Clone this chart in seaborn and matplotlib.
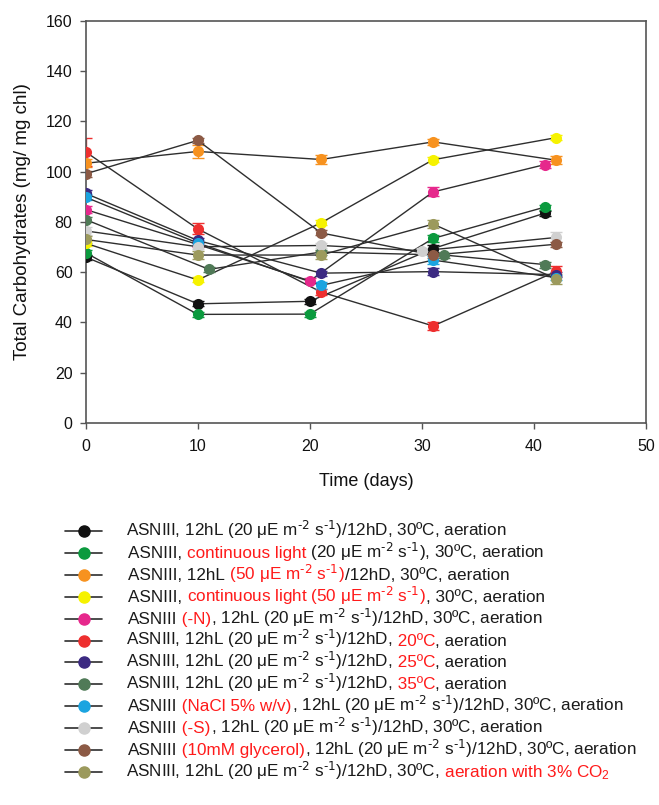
import matplotlib
matplotlib.use("Agg")
import matplotlib.pyplot as plt
from matplotlib.lines import Line2D
import seaborn as sns

# ---- data -------------------------------------------------------------
series_names = [
    "control", "continuous light", "50 uE", "continuous 50 uE", "-N", "20C",
    "25C", "35C", "NaCl", "-S", "glycerol", "CO2",
]
series_colors = [
    "#111111", "#0b9a3e", "#f7921f", "#f6f200", "#e6288c", "#ee2f2f",
    "#3c2a82", "#507a57", "#1ba4e0", "#d0d0d0", "#8c5a45", "#9c9a5d",
]
days = [
    [0, 10, 20, 31, 41],
    [0, 10, 20, 31, 41],
    [0, 10, 21, 31, 42],
    [0, 10, 21, 31, 42],
    [0, 10, 20, 31, 41],
    [0, 10, 21, 31, 42],
    [0, 10, 21, 31, 42],
    [0, 11, 21, 32, 41],
    [0, 10, 21, 31, 42],
    [0, 10, 21, 30, 42],
    [0, 10, 21, 31, 42],
    [0, 10, 21, 31, 42],
]
carbs = [
    [66.0, 47.4, 48.4, 69.4, 83.5],
    [67.7, 43.2, 43.3, 73.4, 85.9],
    [103.3, 108.0, 104.8, 111.8, 104.5],
    [71.5, 56.9, 79.6, 104.7, 113.5],
    [84.9, 71.0, 56.5, 91.9, 102.8],
    [107.8, 77.2, 52.1, 38.6, 60.3],
    [91.3, 72.6, 59.6, 60.2, 59.0],
    [80.9, 61.1, 68.0, 66.8, 63.0],
    [89.8, 71.6, 54.7, 64.8, 57.8],
    [76.4, 70.1, 70.6, 68.5, 73.8],
    [99.1, 112.4, 75.6, 66.8, 71.1],
    [73.0, 66.8, 66.8, 79.1, 57.3],
]
errors = [
    [1.0, 1.0, 1.0, 1.5, 1.0],
    [1.0, 1.0, 1.0, 1.5, 1.0],
    [1.5, 2.5, 1.8, 1.2, 1.5],
    [1.0, 1.0, 1.0, 1.0, 1.0],
    [1.5, 1.0, 1.0, 1.8, 1.5],
    [5.5, 2.2, 1.0, 1.5, 2.0],
    [1.2, 1.0, 1.0, 1.5, 1.0],
    [1.0, 1.0, 1.0, 1.0, 1.2],
    [1.2, 1.0, 1.5, 1.5, 1.0],
    [1.5, 1.0, 1.0, 1.0, 2.0],
    [1.2, 1.0, 1.0, 1.0, 1.0],
    [1.5, 1.5, 1.5, 1.5, 2.0],
]

BLK = "#1a1a1a"
RED = "#ff1a1a"
UNIT = r"(20 μE m$^{\text{-2}}$ s$^{\text{-1}}$)"
UNIT50 = r"(50 μE m$^{\text{-2}}$ s$^{\text{-1}}$)"
legend_rows = [
    [("ASNIII, 12hL " + UNIT + "/12hD, 30ºC, aeration", BLK)],
    [("ASNIII, ", BLK), ("continuous light", RED), (" " + UNIT + ", 30ºC, aeration", BLK)],
    [("ASNIII, 12hL", BLK), (" " + UNIT50, RED), ("/12hD, 30ºC, aeration", BLK)],
    [("ASNIII, ", BLK), ("continuous light " + UNIT50, RED), (", 30ºC, aeration", BLK)],
    [("ASNIII", BLK), (" (-N)", RED), (", 12hL " + UNIT + "/12hD, 30ºC, aeration", BLK)],
    [("ASNIII, 12hL " + UNIT + "/12hD,", BLK), (" 20ºC", RED), (", aeration", BLK)],
    [("ASNIII, 12hL " + UNIT + "/12hD,", BLK), (" 25ºC", RED), (", aeration", BLK)],
    [("ASNIII, 12hL " + UNIT + "/12hD,", BLK), (" 35ºC", RED), (", aeration", BLK)],
    [("ASNIII", BLK), (" (NaCl 5% w/v)", RED), (", 12hL " + UNIT + "/12hD, 30ºC, aeration", BLK)],
    [("ASNIII", BLK), (" (-S)", RED), (", 12hL " + UNIT + "/12hD, 30ºC, aeration", BLK)],
    [("ASNIII", BLK), (" (10mM glycerol)", RED), (", 12hL " + UNIT + "/12hD, 30ºC, aeration", BLK)],
    [("ASNIII, 12hL " + UNIT + "/12hD, 30ºC,", BLK), (r" aeration with 3% CO$_2$", RED)],
]

x_ticks = [0, 10, 20, 30, 40, 50]
y_ticks = [0, 20, 40, 60, 80, 100, 120, 140, 160]

# ---- style ------------------------------------------------------------
sns.set_theme(style="ticks")
plt.rcParams["font.family"] = ["Liberation Sans", "DejaVu Sans"]
plt.rcParams["mathtext.default"] = "regular"

W, H = 659, 805
fig = plt.figure(figsize=(W / 100, H / 100), dpi=100)
fig.patch.set_facecolor("white")

ax_l, ax_r, ax_t, ax_b = 85.7, 646.0, 20.7, 423.0
ax = fig.add_axes([ax_l / W, 1 - ax_b / H, (ax_r - ax_l) / W, (ax_b - ax_t) / H])
ax.set_facecolor("white")

LINE_C = "#2e2e2e"
for d, v, e, c in zip(days, carbs, errors, series_colors):
    ax.errorbar(d, v, yerr=e, fmt="none", ecolor=c, elinewidth=1.0,
                capsize=4.3, capthick=1.0, zorder=2)
    sns.lineplot(x=d, y=v, ax=ax, color=LINE_C, linewidth=1.0,
                 estimator=None, sort=False, zorder=2)
    sns.scatterplot(x=d, y=v, ax=ax, color=c, s=64, edgecolor=c,
                    linewidth=0, zorder=3)

ax.set_xlim(0, 50)
ax.set_ylim(0, 160)
ax.set_xticks(x_ticks)
ax.set_yticks(y_ticks)
ax.tick_params(axis="both", direction="out", length=4.5, width=1.0,
               color="#555555", labelsize=11.5, labelcolor="#111111", pad=5)
ax.tick_params(axis="x", pad=7)
for side in ["left", "bottom", "top", "right"]:
    ax.spines[side].set_visible(True)
    ax.spines[side].set_color("#555555")
    ax.spines[side].set_linewidth(1.2)

ax.set_xlabel("Time (days)", fontsize=13, color="#111111")
ax.set_ylabel("Total Carbohydrates (mg/ mg chl)", fontsize=13.5, color="#111111")
ax.xaxis.set_label_coords(0.5, -0.125)
ax.yaxis.set_label_coords(-0.098, 0.5)

# ---- legend drawn row by row (mixed-colour labels) --------------------
renderer = fig.canvas.get_renderer()
row_y0, row_dy = 531.0, 21.9
for i, (segments, c) in enumerate(zip(legend_rows, series_colors)):
    yc = row_y0 + i * row_dy
    fy = 1 - yc / H
    fig.add_artist(Line2D([65 / W, 102 / W], [fy, fy], transform=fig.transFigure,
                          color=LINE_C, linewidth=1.2))
    fig.add_artist(Line2D([83.5 / W], [fy], transform=fig.transFigure,
                          marker="o", markersize=8, color=c,
                          markeredgecolor=c, linestyle="none"))
    # mathtext boxes carry a little left padding; pull them back in line
    xpix = 126.5 if "$" in segments[0][0] else 128.0
    base = 1 - (yc + 5.0) / H
    for text, col in segments:
        t = fig.text(xpix / W, base, text, color=col, fontsize=12.3,
                     ha="left", va="baseline")
        ext = t.get_window_extent(renderer=renderer)
        xpix = ext.x1

fig.savefig("out.png", dpi=100, facecolor="white")
